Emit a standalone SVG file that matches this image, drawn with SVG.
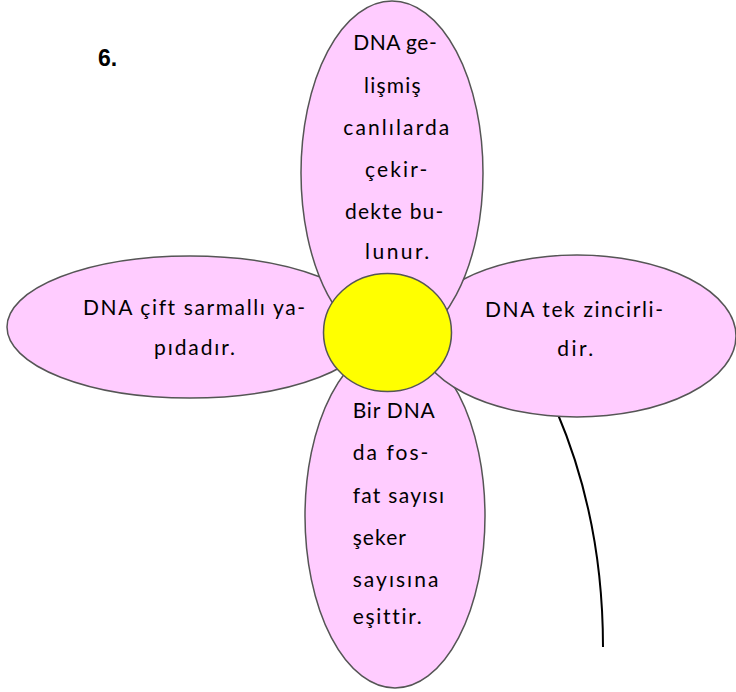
<svg xmlns="http://www.w3.org/2000/svg" width="736" height="692" viewBox="0 0 736 692">
<style>
.petal{fill:#FFCCFF;stroke:#555555;stroke-width:1.5}
.center{fill:#FFFF00;stroke:#555555;stroke-width:1.5}
.t{font-family:Lato,"Open Sans","DejaVu Sans",sans-serif;font-size:21px;fill:#000;font-variant-ligatures:none;font-feature-settings:"liga" 0}
.num{font-family:"Liberation Sans",Arial,sans-serif;font-size:23px;font-weight:bold;fill:#000}
.stem{fill:none;stroke:#000;stroke-width:2}
</style>
<rect width="736" height="692" fill="#ffffff"/>
<text class="num" x="98" y="65.5">6.</text>
<g id="connectors">
<path class="stem" d="M557,412 Q603,520 603,647"/>
</g>
<g id="petal-bottom">
<ellipse class="petal" cx="395" cy="516" rx="90" ry="172"/>
<text class="t" x="352.7" y="418" textLength="82" lengthAdjust="spacing">Bir DNA</text>
<text class="t" x="352.7" y="460" textLength="75.7" lengthAdjust="spacing">da fos-</text>
<text class="t" x="352.7" y="503" textLength="91.3" lengthAdjust="spacing">fat sayısı</text>
<text class="t" x="352.7" y="545" textLength="53.3" lengthAdjust="spacing">şeker</text>
<text class="t" x="352.7" y="587" textLength="85.7" lengthAdjust="spacing">sayısına</text>
<text class="t" x="352.7" y="624" textLength="69" lengthAdjust="spacing">eşittir.</text>
</g>
<g id="petal-left">
<ellipse class="petal" cx="190" cy="327" rx="183" ry="71"/>
<text class="t" x="83" y="315" textLength="222" lengthAdjust="spacing">DNA çift sarmallı ya-</text>
<text class="t" x="154" y="355" textLength="81" lengthAdjust="spacing">pıdadır.</text>
</g>
<g id="petal-right">
<ellipse class="petal" cx="577" cy="336" rx="159" ry="81"/>
<text class="t" x="485" y="316.7" textLength="178" lengthAdjust="spacing">DNA tek zincirli-</text>
<text class="t" x="557.3" y="356" textLength="36" lengthAdjust="spacing">dir.</text>
</g>
<g id="petal-top">
<ellipse class="petal" cx="392" cy="173" rx="91" ry="172"/>
<text class="t" x="353.3" y="50" textLength="83.4" lengthAdjust="spacing">DNA ge-</text>
<text class="t" x="364" y="93" textLength="56.7" lengthAdjust="spacing">lişmiş</text>
<text class="t" x="343.3" y="135" textLength="106" lengthAdjust="spacing">canlılarda</text>
<text class="t" x="365" y="177" textLength="62.3" lengthAdjust="spacing">çekir-</text>
<text class="t" x="345" y="219" textLength="98.3" lengthAdjust="spacing">dekte bu-</text>
<text class="t" x="365" y="259" textLength="64.3" lengthAdjust="spacing">lunur.</text>
</g>
<g id="center">
<ellipse class="center" cx="387.5" cy="332.5" rx="64" ry="59"/>
</g>
</svg>
